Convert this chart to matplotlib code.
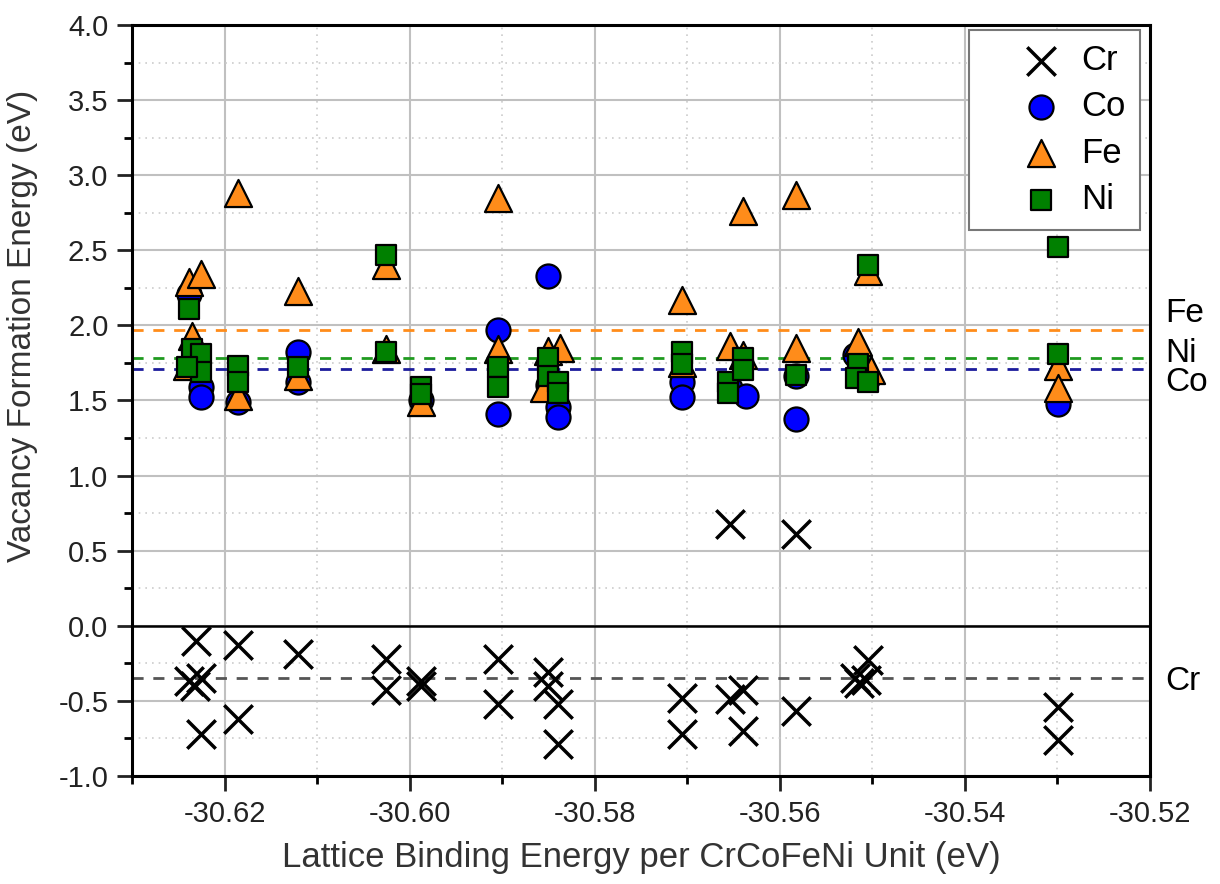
import matplotlib
matplotlib.use('Agg')
import matplotlib.pyplot as plt
import matplotlib.transforms as mtransforms
from matplotlib.ticker import MultipleLocator, FormatStrFormatter

plt.rcParams['font.family'] = ['Liberation Sans', 'DejaVu Sans']

# Cr vacancies
cr_x = [-30.6231, -30.6238, -30.6225, -30.6232, -30.6225,
        -30.6186, -30.6186, -30.6121, -30.6025, -30.6025,
        -30.5988, -30.5988, -30.5905, -30.5905, -30.5851,
        -30.5851, -30.5840, -30.5840, -30.5706, -30.5706,
        -30.5654, -30.5654, -30.5640, -30.5640, -30.5582,
        -30.5582, -30.5519, -30.5514, -30.5505, -30.5507,
        -30.5299, -30.5299]
cr_y = [-0.10, -0.37, -0.35, -0.40, -0.72,
        -0.13, -0.62, -0.19, -0.22, -0.43,
        -0.37, -0.40, -0.22, -0.52, -0.31,
        -0.40, -0.52, -0.79, -0.48, -0.72,
        0.68, -0.49, -0.43, -0.70, 0.61,
        -0.57, -0.35, -0.38, -0.23, -0.36,
        -0.54, -0.76]

# Co vacancies
co_x = [-30.6238, -30.6225, -30.6225, -30.6186, -30.6121,
        -30.6121, -30.5988, -30.5905, -30.5905, -30.5851,
        -30.5851, -30.5840, -30.5840, -30.5706, -30.5706,
        -30.5654, -30.5637, -30.5582, -30.5582, -30.5519,
        -30.5505, -30.5299]
co_y = [2.21, 1.59, 1.52, 1.49, 1.82,
        1.62, 1.50, 1.97, 1.41, 2.33,
        1.60, 1.46, 1.39, 1.62, 1.52,
        1.58, 1.53, 1.66, 1.38, 1.80,
        1.65, 1.48]

# Fe vacancies
fe_x = [-30.6238, -30.6225, -30.6235, -30.6241, -30.6186,
        -30.6186, -30.6121, -30.6121, -30.6025, -30.6025,
        -30.5988, -30.5905, -30.5905, -30.5851, -30.5855,
        -30.5838, -30.5706, -30.5706, -30.5654, -30.5640,
        -30.5640, -30.5582, -30.5582, -30.5516, -30.5505,
        -30.5501, -30.5299, -30.5299]
fe_y = [2.29, 2.34, 1.93, 1.73, 2.88,
        1.53, 2.23, 1.66, 2.40, 1.84,
        1.49, 2.85, 1.84, 1.83, 1.58,
        1.85, 2.17, 1.75, 1.86, 2.76,
        1.80, 2.87, 1.85, 1.89, 2.36,
        1.70, 1.73, 1.58]

# Ni vacancies
ni_x = [-30.6238, -30.6235, -30.6225, -30.6225, -30.6241,
        -30.6186, -30.6186, -30.6121, -30.6025, -30.6025,
        -30.5988, -30.5988, -30.5905, -30.5905, -30.5851,
        -30.5851, -30.5840, -30.5840, -30.5706, -30.5706,
        -30.5656, -30.5656, -30.5640, -30.5640, -30.5582,
        -30.5516, -30.5518, -30.5505, -30.5505, -30.5299,
        -30.5299]
ni_y = [2.11, 1.84, 1.81, 1.69, 1.72,
        1.73, 1.62, 1.72, 2.47, 1.82,
        1.59, 1.54, 1.72, 1.59, 1.78,
        1.66, 1.62, 1.55, 1.82, 1.74,
        1.62, 1.55, 1.78, 1.70, 1.67,
        1.74, 1.65, 2.40, 1.62, 2.52,
        1.81]

# 平均值 (dashed reference lines)
avg_names = ['Fe', 'Ni', 'Co', 'Cr']
avg_values = [1.97, 1.78, 1.71, -0.35]
avg_colors = ['#ff8c1a', '#1f9a1f', '#1c1c9c', '#555555']
label_offsets = [0.11, 0.03, -0.09, -0.02]

fig = plt.figure(figsize=(12.2, 8.84), dpi=100)
ax = fig.add_axes([0.1082, 0.1222, 0.8344, 0.8495])

ax.axhline(0, color='black', lw=1.8, zorder=2)
trans = mtransforms.blended_transform_factory(ax.transAxes, ax.transData)
for name, v, c, off in zip(avg_names, avg_values, avg_colors, label_offsets):
    ax.axhline(v, color=c, ls=(0, (4, 3.5)), lw=2.0, zorder=2)
    ax.text(1.0147, v + off, name, transform=trans, fontsize=24, va='center', ha='left',
            clip_on=False)

ax.scatter(cr_x, cr_y, marker='x', s=420, c='black', linewidths=2.5, label='Cr', zorder=3)
ax.scatter(co_x, co_y, marker='o', s=300, c='#0000ff', edgecolors='black', linewidths=1.6,
           label='Co', zorder=4)
ax.scatter(fe_x, fe_y, marker='^', s=380, c='#ff8c1a', edgecolors='black', linewidths=1.6,
           label='Fe', zorder=5)
ax.scatter(ni_x, ni_y, marker='s', s=220, c='#008000', edgecolors='black', linewidths=1.6,
           label='Ni', zorder=6)

ax.set_xlim(-30.63, -30.52)
ax.set_ylim(-1.0, 4.0)
ax.xaxis.set_major_locator(MultipleLocator(0.02))
ax.xaxis.set_minor_locator(MultipleLocator(0.01))
ax.yaxis.set_major_locator(MultipleLocator(0.5))
ax.yaxis.set_minor_locator(MultipleLocator(0.25))
ax.xaxis.set_major_formatter(FormatStrFormatter('%.2f'))
ax.yaxis.set_major_formatter(FormatStrFormatter('%.1f'))
ax.grid(which='major', color='#c0c0c0', lw=1.5)
ax.grid(which='minor', color='#cccccc', ls=(0, (1, 3)), lw=1.2)
ax.set_axisbelow(True)
ax.tick_params(labelsize=21, width=2, length=11, pad=6, colors='#222222')
ax.tick_params(which='minor', width=2, length=6)
for s in ax.spines.values():
    s.set_linewidth(2.2)

ax.set_xlabel('Lattice Binding Energy per CrCoFeNi Unit (eV)', fontsize=25, color='#333333',
              labelpad=10)
ax.set_ylabel('Vacancy Formation Energy (eV)', fontsize=24, color='#333333')
ax.yaxis.set_label_coords(-0.092, 0.60)

leg = ax.legend(loc='upper right', fontsize=25, fancybox=False, edgecolor='#777777',
                framealpha=1, borderpad=0.4, handlelength=3.35, handletextpad=-0.5,
                labelspacing=0.38, borderaxespad=0, bbox_to_anchor=(0.990, 0.993))
leg.get_frame().set_linewidth(1.5)

plt.savefig('out.png', dpi=100)
